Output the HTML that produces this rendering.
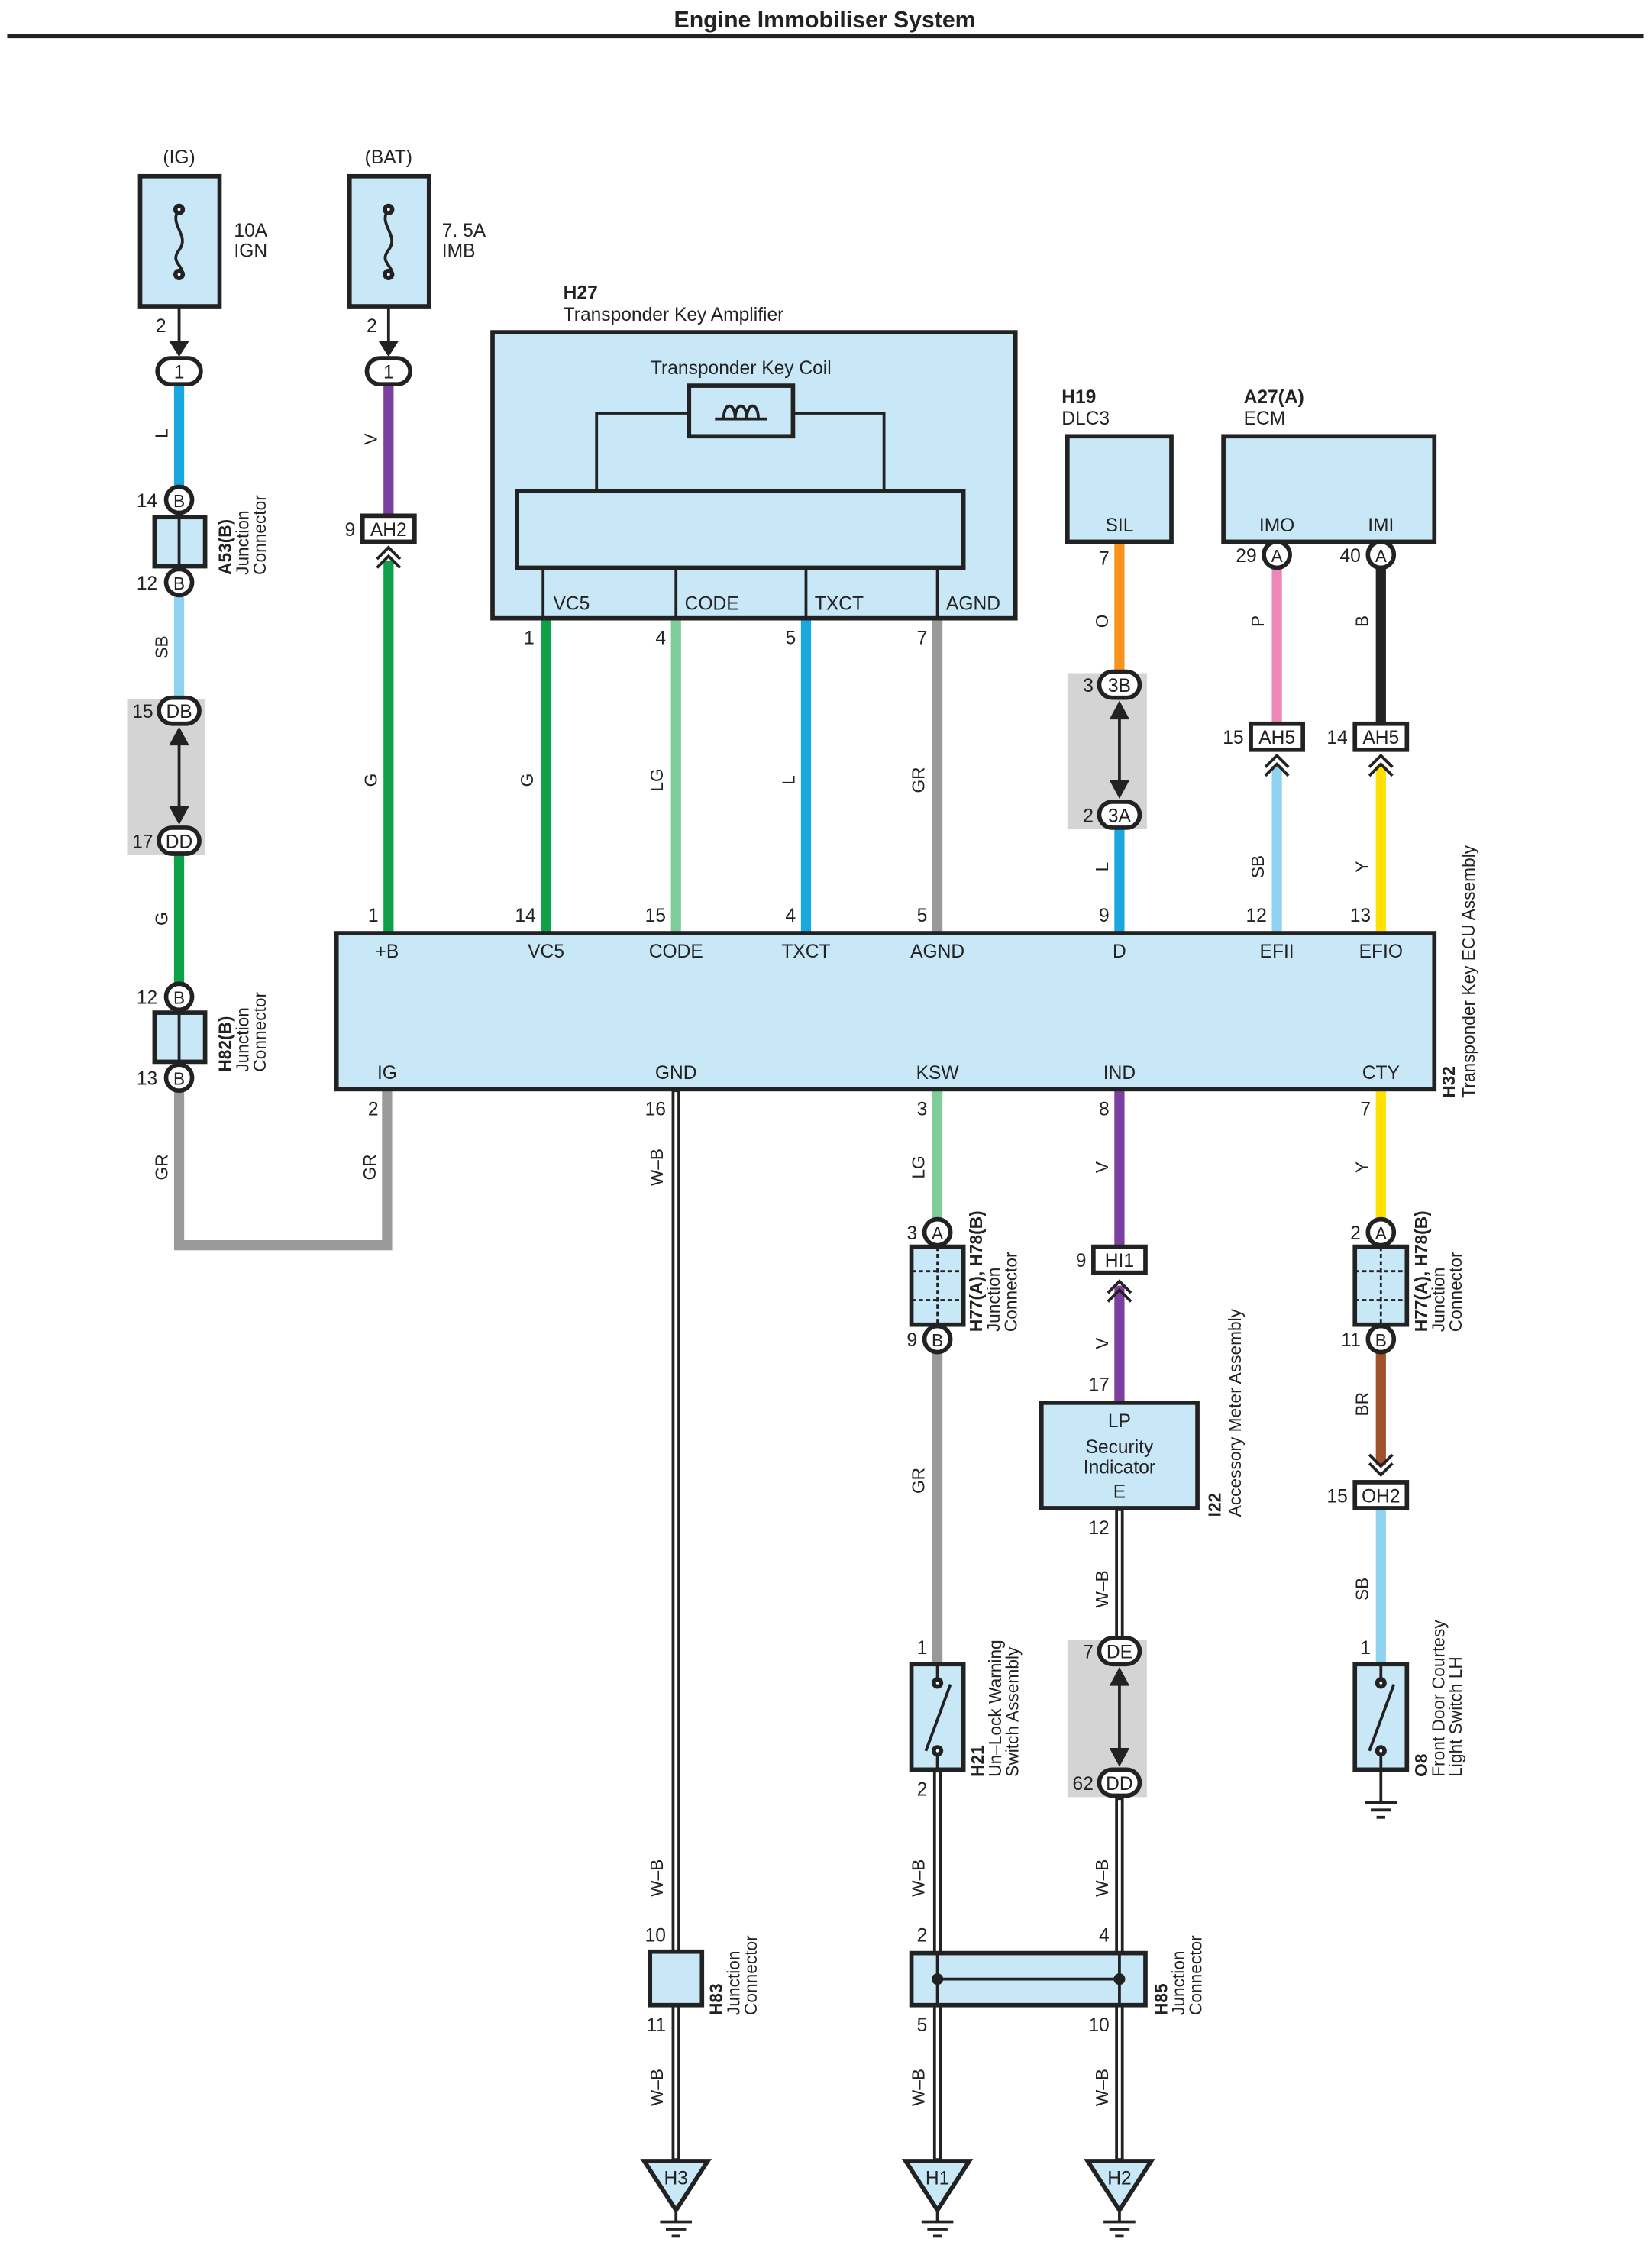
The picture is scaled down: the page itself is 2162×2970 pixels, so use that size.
<!DOCTYPE html>
<html><head><meta charset="utf-8"><style>
html,body{margin:0;padding:0;background:#fff;}
svg{display:block;}
text{font-family:"Liberation Sans",Arial,sans-serif;fill:#222;}
.bx{fill:#c8e8f8;stroke:#222;stroke-width:3;}
.ln{stroke:#222;stroke-width:2;fill:none;}
.t{font-size:13px;}
.s{font-size:12px;}
.b{font-weight:bold;}
.gr{fill:#d4d4d4;stroke:none;}
.ov{fill:#fff;stroke:#222;stroke-width:3;}
</style></head><body>
<svg width="2162" height="2970" viewBox="0 0 1143 1570" preserveAspectRatio="none" xmlns="http://www.w3.org/2000/svg">
<defs>
<g id="gnd"><line x1="0" y1="0" x2="0" y2="8" class="ln"/><line x1="-11" y1="8" x2="11" y2="8" class="ln"/><line x1="-7" y1="13" x2="7" y2="13" class="ln"/><line x1="-3" y1="18" x2="3" y2="18" class="ln"/></g>
<g id="chevU"><polyline points="-8,6 0,-2 8,6" class="ln" stroke-width="2.5"/><polyline points="-8,12 0,4 8,12" class="ln" stroke-width="2.5"/></g>
<g id="chevD"><polyline points="-8,-6 0,2 8,-6" class="ln" stroke-width="2.5"/><polyline points="-8,-12 0,-4 8,-12" class="ln" stroke-width="2.5"/></g>
</defs>
<rect width="1143" height="1570" fill="#fff"/>
<text x="571" y="19" text-anchor="middle" font-size="16" class="b">Engine Immobiliser System</text>
<line x1="5" y1="25" x2="1138" y2="25" stroke="#222" stroke-width="3"/>

<rect class="gr" x="88" y="484" width="54" height="108"/>
<rect class="gr" x="739" y="466" width="55" height="108"/>
<rect class="gr" x="739" y="1135" width="55" height="109"/>

<g stroke-width="7" fill="none">
<line x1="124" y1="266" x2="124" y2="338" stroke="#1aa7e0"/>
<line x1="124" y1="410" x2="124" y2="484" stroke="#8fd3f0"/>
<line x1="124" y1="592" x2="124" y2="682" stroke="#0fa04a"/>
<polyline points="124,754 124,862 268,862 268,754" stroke="#999"/>
<line x1="269" y1="266" x2="269" y2="357" stroke="#7b3fa0"/>
<line x1="269" y1="388" x2="269" y2="646" stroke="#0fa04a"/>
<line x1="378" y1="428" x2="378" y2="646" stroke="#0fa04a"/>
<line x1="468" y1="428" x2="468" y2="646" stroke="#80cc9a"/>
<line x1="558" y1="428" x2="558" y2="646" stroke="#1aa7e0"/>
<line x1="649" y1="428" x2="649" y2="646" stroke="#999"/>
<line x1="775" y1="375" x2="775" y2="466" stroke="#f7941d"/>
<line x1="775" y1="574" x2="775" y2="646" stroke="#1aa7e0"/>
<line x1="884" y1="392" x2="884" y2="501" stroke="#ef86b8"/>
<line x1="956" y1="392" x2="956" y2="501" stroke="#222"/>
<line x1="884" y1="530" x2="884" y2="646" stroke="#8fd3f0"/>
<line x1="956" y1="530" x2="956" y2="646" stroke="#ffe000"/>
<line x1="649" y1="754" x2="649" y2="845" stroke="#80cc9a"/>
<line x1="649" y1="935" x2="649" y2="1152" stroke="#999"/>
<line x1="775" y1="754" x2="775" y2="863" stroke="#7b3fa0"/>
<line x1="775" y1="890" x2="775" y2="970" stroke="#7b3fa0"/>
<line x1="956" y1="754" x2="956" y2="845" stroke="#ffe000"/>
<line x1="956" y1="935" x2="956" y2="1014" stroke="#a0522d"/>
<line x1="956" y1="1044" x2="956" y2="1152" stroke="#8fd3f0"/>
</g>
<g fill="none">
<g stroke="#222" stroke-width="6">
<line x1="468" y1="754" x2="468" y2="1496"/>
<line x1="649" y1="1225" x2="649" y2="1496"/>
<line x1="775" y1="1044" x2="775" y2="1135"/>
<line x1="775" y1="1244" x2="775" y2="1496"/>
</g>
<g stroke="#fff" stroke-width="2">
<line x1="468" y1="756" x2="468" y2="1494"/>
<line x1="649" y1="1227" x2="649" y2="1494"/>
<line x1="775" y1="1046" x2="775" y2="1133"/>
<line x1="775" y1="1246" x2="775" y2="1494"/>
</g>
</g>

<text x="124" y="113" text-anchor="middle" class="t">(IG)</text>
<rect class="bx" x="97" y="122" width="55" height="90"/>
<path d="M124,145 c-8,10 8,18 0,28 c-8,10 8,12 0,20" class="ln"/>
<circle cx="124" cy="145" r="2.5" class="ov" stroke-width="1.5"/><circle cx="124" cy="190" r="2.5" class="ov" stroke-width="1.5"/>
<text x="162" y="164" class="t">10A</text><text x="162" y="178" class="t">IGN</text>
<line x1="124" y1="212" x2="124" y2="242" class="ln" stroke-width="3"/>
<polygon points="117,236 131,236 124,247" fill="#222"/>
<text x="115" y="230" class="t" text-anchor="end">2</text>
<rect class="ov" x="109" y="248" width="30" height="18" rx="9"/><text x="124" y="262" text-anchor="middle" class="t">1</text>
<text transform="rotate(-90 116 300)" x="116" y="300" text-anchor="middle" class="s">L</text>

<circle class="ov" cx="124" cy="346" r="9"/><text x="124" y="351" text-anchor="middle" class="s">B</text>
<rect class="bx" x="107" y="358" width="35" height="34"/><line x1="124" y1="358" x2="124" y2="392" class="ln"/>
<circle class="ov" cx="124" cy="403" r="9"/><text x="124" y="408" text-anchor="middle" class="s">B</text>
<text x="109" y="351" text-anchor="end" class="t">14</text><text x="109" y="408" text-anchor="end" class="t">12</text>
<g transform="rotate(-90 160 398)"><text x="160" y="398" class="s b">A53(B)</text><text x="160" y="410" class="s">Junction</text><text x="160" y="422" class="s">Connector</text></g>
<text transform="rotate(-90 116 448)" x="116" y="448" text-anchor="middle" class="s">SB</text>

<rect class="ov" x="110" y="483" width="28" height="18" rx="9"/><text x="124" y="497" text-anchor="middle" class="t">DB</text>
<rect class="ov" x="110" y="573" width="28" height="18" rx="9"/><text x="124" y="587" text-anchor="middle" class="t">DD</text>
<line x1="124" y1="505" x2="124" y2="569" class="ln" stroke-width="3"/>
<polygon points="117,516 131,516 124,503" fill="#222"/><polygon points="117,558 131,558 124,571" fill="#222"/>
<text x="106" y="497" text-anchor="end" class="t">15</text><text x="106" y="587" text-anchor="end" class="t">17</text>
<text transform="rotate(-90 116 636)" x="116" y="636" text-anchor="middle" class="s">G</text>

<circle class="ov" cx="124" cy="690" r="9"/><text x="124" y="695" text-anchor="middle" class="s">B</text>
<rect class="bx" x="107" y="701" width="35" height="34"/><line x1="124" y1="701" x2="124" y2="735" class="ln"/>
<circle class="ov" cx="124" cy="746" r="9"/><text x="124" y="751" text-anchor="middle" class="s">B</text>
<text x="109" y="695" text-anchor="end" class="t">12</text><text x="109" y="751" text-anchor="end" class="t">13</text>
<g transform="rotate(-90 160 742)"><text x="160" y="742" class="s b">H82(B)</text><text x="160" y="754" class="s">Junction</text><text x="160" y="766" class="s">Connector</text></g>
<text transform="rotate(-90 116 808)" x="116" y="808" text-anchor="middle" class="s">GR</text>
<text transform="rotate(-90 260 808)" x="260" y="808" text-anchor="middle" class="s">GR</text>

<text x="269" y="113" text-anchor="middle" class="t">(BAT)</text>
<rect class="bx" x="242" y="122" width="55" height="90"/>
<path d="M269,145 c-8,10 8,18 0,28 c-8,10 8,12 0,20" class="ln"/>
<circle cx="269" cy="145" r="2.5" class="ov" stroke-width="1.5"/><circle cx="269" cy="190" r="2.5" class="ov" stroke-width="1.5"/>
<text x="306" y="164" class="t">7. 5A</text><text x="306" y="178" class="t">IMB</text>
<line x1="269" y1="212" x2="269" y2="242" class="ln" stroke-width="3"/>
<polygon points="262,236 276,236 269,247" fill="#222"/>
<text x="261" y="230" class="t" text-anchor="end">2</text>
<rect class="ov" x="254" y="248" width="30" height="18" rx="9"/><text x="269" y="262" text-anchor="middle" class="t">1</text>
<text transform="rotate(-90 261 304)" x="261" y="304" text-anchor="middle" class="s">V</text>
<rect class="ov" x="251" y="357" width="36" height="18"/><text x="269" y="371" text-anchor="middle" class="t">AH2</text>
<text x="246" y="371" text-anchor="end" class="t">9</text>
<use href="#chevU" x="269" y="381"/>
<text transform="rotate(-90 261 540)" x="261" y="540" text-anchor="middle" class="s">G</text>

<text x="390" y="207" class="t b">H27</text>
<text x="390" y="222" class="t">Transponder Key Amplifier</text>
<rect class="bx" x="341" y="230" width="362" height="198"/>
<text x="513" y="259" text-anchor="middle" class="t">Transponder Key Coil</text>
<rect x="477" y="267" width="72" height="35" fill="none" stroke="#222" stroke-width="3"/>
<path d="M501,290 c0,-12 8,-12 8,0 c0,-12 8,-12 8,0 c0,-12 8,-12 8,0" class="ln"/>
<line x1="495" y1="290" x2="531" y2="290" class="ln"/>
<polyline points="477,286 413,286 413,340" class="ln"/>
<polyline points="549,286 612,286 612,340" class="ln"/>
<rect x="358" y="340" width="309" height="53" fill="none" stroke="#222" stroke-width="3"/>
<g class="ln"><line x1="376" y1="393" x2="376" y2="428"/><line x1="468" y1="393" x2="468" y2="428"/><line x1="558" y1="393" x2="558" y2="428"/><line x1="649" y1="393" x2="649" y2="428"/></g>
<text x="383" y="422" class="t">VC5</text><text x="474" y="422" class="t">CODE</text><text x="564" y="422" class="t">TXCT</text><text x="655" y="422" class="t">AGND</text>
<text x="370" y="446" text-anchor="end" class="t">1</text><text x="461" y="446" text-anchor="end" class="t">4</text><text x="551" y="446" text-anchor="end" class="t">5</text><text x="642" y="446" text-anchor="end" class="t">7</text>
<text transform="rotate(-90 369 540)" x="369" y="540" text-anchor="middle" class="s">G</text>
<text transform="rotate(-90 459 540)" x="459" y="540" text-anchor="middle" class="s">LG</text>
<text transform="rotate(-90 550 540)" x="550" y="540" text-anchor="middle" class="s">L</text>
<text transform="rotate(-90 640 540)" x="640" y="540" text-anchor="middle" class="s">GR</text>

<text x="735" y="279" class="t b">H19</text><text x="735" y="294" class="t">DLC3</text>
<rect class="bx" x="739" y="302" width="72" height="73"/>
<text x="775" y="368" text-anchor="middle" class="t">SIL</text>
<text x="768" y="391" text-anchor="end" class="t">7</text>
<text transform="rotate(-90 767 430)" x="767" y="430" text-anchor="middle" class="s">O</text>
<rect class="ov" x="761" y="465" width="28" height="18" rx="9"/><text x="775" y="479" text-anchor="middle" class="t">3B</text>
<rect class="ov" x="761" y="555" width="28" height="18" rx="9"/><text x="775" y="569" text-anchor="middle" class="t">3A</text>
<line x1="775" y1="487" x2="775" y2="551" class="ln" stroke-width="3"/>
<polygon points="768,498 782,498 775,485" fill="#222"/><polygon points="768,540 782,540 775,553" fill="#222"/>
<text x="757" y="479" text-anchor="end" class="t">3</text><text x="757" y="569" text-anchor="end" class="t">2</text>
<text transform="rotate(-90 767 600)" x="767" y="600" text-anchor="middle" class="s">L</text>

<text x="861" y="279" class="t b">A27(A)</text><text x="861" y="294" class="t">ECM</text>
<rect class="bx" x="847" y="302" width="146" height="73"/>
<text x="884" y="368" text-anchor="middle" class="t">IMO</text><text x="956" y="368" text-anchor="middle" class="t">IMI</text>
<circle class="ov" cx="884" cy="384" r="9"/><text x="884" y="389" text-anchor="middle" class="s">A</text>
<circle class="ov" cx="956" cy="384" r="9"/><text x="956" y="389" text-anchor="middle" class="s">A</text>
<text x="870" y="389" text-anchor="end" class="t">29</text><text x="942" y="389" text-anchor="end" class="t">40</text>
<text transform="rotate(-90 875 430)" x="875" y="430" text-anchor="middle" class="s">P</text>
<text transform="rotate(-90 947 430)" x="947" y="430" text-anchor="middle" class="s">B</text>
<rect class="ov" x="866" y="501" width="36" height="18"/><text x="884" y="515" text-anchor="middle" class="t">AH5</text>
<rect class="ov" x="938" y="501" width="36" height="18"/><text x="956" y="515" text-anchor="middle" class="t">AH5</text>
<text x="861" y="515" text-anchor="end" class="t">15</text><text x="933" y="515" text-anchor="end" class="t">14</text>
<use href="#chevU" x="884" y="525"/><use href="#chevU" x="956" y="525"/>
<text transform="rotate(-90 875 600)" x="875" y="600" text-anchor="middle" class="s">SB</text>
<text transform="rotate(-90 947 600)" x="947" y="600" text-anchor="middle" class="s">Y</text>

<rect class="bx" x="233" y="646" width="760" height="108"/>
<g class="t" text-anchor="middle">
<text x="268" y="663">+B</text><text x="378" y="663">VC5</text><text x="468" y="663">CODE</text><text x="558" y="663">TXCT</text><text x="649" y="663">AGND</text><text x="775" y="663">D</text><text x="884" y="663">EFII</text><text x="956" y="663">EFIO</text>
<text x="268" y="747">IG</text><text x="468" y="747">GND</text><text x="649" y="747">KSW</text><text x="775" y="747">IND</text><text x="956" y="747">CTY</text>
</g>
<g class="t" text-anchor="end">
<text x="262" y="638">1</text><text x="371" y="638">14</text><text x="461" y="638">15</text><text x="551" y="638">4</text><text x="642" y="638">5</text><text x="768" y="638">9</text><text x="877" y="638">12</text><text x="949" y="638">13</text>
<text x="262" y="772">2</text><text x="461" y="772">16</text><text x="642" y="772">3</text><text x="768" y="772">8</text><text x="949" y="772">7</text>
</g>
<g transform="rotate(-90 1007 760)"><text x="1007" y="760" class="s b">H32</text><text x="1007" y="774" class="s">Transponder Key ECU Assembly</text></g>

<text transform="rotate(-90 459 808)" x="459" y="808" text-anchor="middle" class="s">W–B</text>
<text transform="rotate(-90 459 1300)" x="459" y="1300" text-anchor="middle" class="s">W–B</text>
<text x="461" y="1344" text-anchor="end" class="t">10</text>
<rect class="bx" x="450" y="1351" width="36" height="37"/>
<text x="461" y="1406" text-anchor="end" class="t">11</text>
<text transform="rotate(-90 459 1445)" x="459" y="1445" text-anchor="middle" class="s">W–B</text>
<g transform="rotate(-90 500 1395)"><text x="500" y="1395" class="s b">H83</text><text x="500" y="1407" class="s">Junction</text><text x="500" y="1419" class="s">Connector</text></g>

<text transform="rotate(-90 640 808)" x="640" y="808" text-anchor="middle" class="s">LG</text>
<circle class="ov" cx="649" cy="853" r="9"/><text x="649" y="858" text-anchor="middle" class="s">A</text>
<text x="635" y="858" text-anchor="end" class="t">3</text>
<rect class="bx" x="631" y="863" width="36" height="54"/>
<g stroke="#222" stroke-width="1.5" stroke-dasharray="3,2"><line x1="631" y1="880" x2="667" y2="880"/><line x1="631" y1="900" x2="667" y2="900"/><line x1="649" y1="863" x2="649" y2="917"/></g>
<circle class="ov" cx="649" cy="927" r="9"/><text x="649" y="932" text-anchor="middle" class="s">B</text>
<text x="635" y="932" text-anchor="end" class="t">9</text>
<g transform="rotate(-90 680 922)"><text x="680" y="922" class="s b">H77(A), H78(B)</text><text x="680" y="934" class="s">Junction</text><text x="680" y="946" class="s">Connector</text></g>
<text transform="rotate(-90 640 1025)" x="640" y="1025" text-anchor="middle" class="s">GR</text>
<text x="642" y="1145" text-anchor="end" class="t">1</text>
<rect class="bx" x="631" y="1152" width="36" height="73"/>
<line x1="649" y1="1152" x2="649" y2="1165" class="ln"/><line x1="649" y1="1212" x2="649" y2="1225" class="ln"/>
<line x1="641" y1="1212" x2="658" y2="1166" class="ln"/>
<circle cx="649" cy="1165" r="2.5" class="ov" stroke-width="1.5"/><circle cx="649" cy="1212" r="2.5" class="ov" stroke-width="1.5"/>
<text x="642" y="1243" text-anchor="end" class="t">2</text>
<g transform="rotate(-90 681 1230)"><text x="681" y="1230" class="s b">H21</text><text x="681" y="1242" class="s">Un–Lock Warning</text><text x="681" y="1254" class="s">Switch Assembly</text></g>
<text transform="rotate(-90 640 1300)" x="640" y="1300" text-anchor="middle" class="s">W–B</text>
<text x="642" y="1344" text-anchor="end" class="t">2</text><text x="768" y="1344" text-anchor="end" class="t">4</text>
<rect class="bx" x="631" y="1352" width="162" height="36"/>
<line x1="649" y1="1370" x2="775" y2="1370" class="ln"/>
<circle cx="649" cy="1370" r="4" fill="#222"/><circle cx="775" cy="1370" r="4" fill="#222"/>
<line x1="649" y1="1352" x2="649" y2="1388" class="ln"/><line x1="775" y1="1352" x2="775" y2="1388" class="ln"/>
<text x="642" y="1406" text-anchor="end" class="t">5</text><text x="768" y="1406" text-anchor="end" class="t">10</text>
<g transform="rotate(-90 808 1395)"><text x="808" y="1395" class="s b">H85</text><text x="808" y="1407" class="s">Junction</text><text x="808" y="1419" class="s">Connector</text></g>
<text transform="rotate(-90 640 1445)" x="640" y="1445" text-anchor="middle" class="s">W–B</text>
<text transform="rotate(-90 767 1445)" x="767" y="1445" text-anchor="middle" class="s">W–B</text>

<text transform="rotate(-90 767 808)" x="767" y="808" text-anchor="middle" class="s">V</text>
<rect class="ov" x="757" y="863" width="36" height="18"/><text x="775" y="877" text-anchor="middle" class="t">HI1</text>
<text x="752" y="877" text-anchor="end" class="t">9</text>
<use href="#chevU" x="775" y="889"/>
<text transform="rotate(-90 767 930)" x="767" y="930" text-anchor="middle" class="s">V</text>
<text x="768" y="963" text-anchor="end" class="t">17</text>
<rect class="bx" x="721" y="971" width="108" height="73"/>
<g class="t" text-anchor="middle"><text x="775" y="988">LP</text><text x="775" y="1006">Security</text><text x="775" y="1020">Indicator</text><text x="775" y="1037">E</text></g>
<text x="768" y="1062" text-anchor="end" class="t">12</text>
<g transform="rotate(-90 845 1050)"><text x="845" y="1050" class="s b">I22</text><text x="845" y="1064" class="s">Accessory Meter Assembly</text></g>
<text transform="rotate(-90 767 1100)" x="767" y="1100" text-anchor="middle" class="s">W–B</text>
<rect class="ov" x="761" y="1134" width="28" height="18" rx="9"/><text x="775" y="1148" text-anchor="middle" class="t">DE</text>
<rect class="ov" x="761" y="1225" width="28" height="18" rx="9"/><text x="775" y="1239" text-anchor="middle" class="t">DD</text>
<line x1="775" y1="1156" x2="775" y2="1221" class="ln" stroke-width="3"/>
<polygon points="768,1167 782,1167 775,1154" fill="#222"/><polygon points="768,1210 782,1210 775,1223" fill="#222"/>
<text x="757" y="1148" text-anchor="end" class="t">7</text><text x="757" y="1239" text-anchor="end" class="t">62</text>
<text transform="rotate(-90 767 1300)" x="767" y="1300" text-anchor="middle" class="s">W–B</text>

<text transform="rotate(-90 947 808)" x="947" y="808" text-anchor="middle" class="s">Y</text>
<circle class="ov" cx="956" cy="853" r="9"/><text x="956" y="858" text-anchor="middle" class="s">A</text>
<text x="942" y="858" text-anchor="end" class="t">2</text>
<rect class="bx" x="938" y="863" width="36" height="54"/>
<g stroke="#222" stroke-width="1.5" stroke-dasharray="3,2"><line x1="938" y1="880" x2="974" y2="880"/><line x1="938" y1="900" x2="974" y2="900"/><line x1="956" y1="863" x2="956" y2="917"/></g>
<circle class="ov" cx="956" cy="927" r="9"/><text x="956" y="932" text-anchor="middle" class="s">B</text>
<text x="942" y="932" text-anchor="end" class="t">11</text>
<g transform="rotate(-90 988 922)"><text x="988" y="922" class="s b">H77(A), H78(B)</text><text x="988" y="934" class="s">Junction</text><text x="988" y="946" class="s">Connector</text></g>
<text transform="rotate(-90 947 972)" x="947" y="972" text-anchor="middle" class="s">BR</text>
<use href="#chevD" x="956" y="1019"/>
<rect class="ov" x="938" y="1026" width="36" height="18"/><text x="956" y="1040" text-anchor="middle" class="t">OH2</text>
<text x="933" y="1040" text-anchor="end" class="t">15</text>
<text transform="rotate(-90 947 1100)" x="947" y="1100" text-anchor="middle" class="s">SB</text>
<text x="949" y="1145" text-anchor="end" class="t">1</text>
<rect class="bx" x="938" y="1152" width="36" height="73"/>
<line x1="956" y1="1152" x2="956" y2="1165" class="ln"/><line x1="956" y1="1212" x2="956" y2="1225" class="ln"/>
<line x1="948" y1="1212" x2="965" y2="1166" class="ln"/>
<circle cx="956" cy="1165" r="2.5" class="ov" stroke-width="1.5"/><circle cx="956" cy="1212" r="2.5" class="ov" stroke-width="1.5"/>
<line x1="956" y1="1225" x2="956" y2="1240" class="ln"/>
<use href="#gnd" x="956" y="1240"/>
<g transform="rotate(-90 988 1230)"><text x="988" y="1230" class="s b">O8</text><text x="988" y="1242" class="s">Front Door Courtesy</text><text x="988" y="1254" class="s">Light Switch LH</text></g>

<g>
<polygon points="446,1496 490,1496 468,1530" fill="#c8e8f8" stroke="#222" stroke-width="3"/><text x="468" y="1512" text-anchor="middle" class="t">H3</text><use href="#gnd" x="468" y="1530"/>
<polygon points="627,1496 671,1496 649,1530" fill="#c8e8f8" stroke="#222" stroke-width="3"/><text x="649" y="1512" text-anchor="middle" class="t">H1</text><use href="#gnd" x="649" y="1530"/>
<polygon points="753,1496 797,1496 775,1530" fill="#c8e8f8" stroke="#222" stroke-width="3"/><text x="775" y="1512" text-anchor="middle" class="t">H2</text><use href="#gnd" x="775" y="1530"/>
</g>
</svg>
</body></html>
